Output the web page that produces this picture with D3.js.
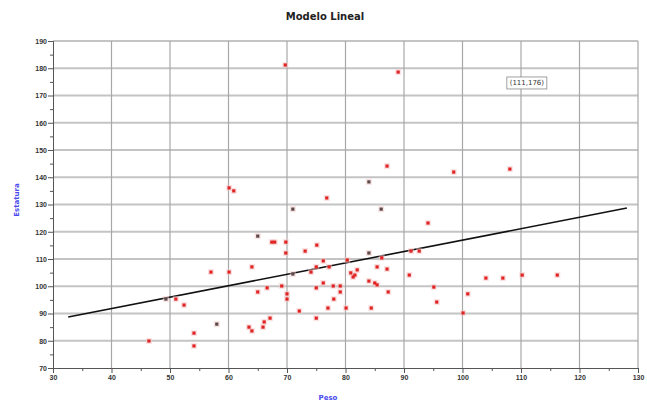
<!DOCTYPE html>
<html>
<head>
<meta charset="utf-8">
<script src="https://cdn.jsdelivr.net/npm/d3@7"></script>
<style>
  body { margin: 0; background: #fff; }
  svg { display: block; font-family: "DejaVu Sans", Arial, sans-serif; }
</style>
</head>
<body>
<svg id="chart" width="647" height="403"></svg>
<script>
// ---- data ----
const pesoValues = [46.4, 49.3, 51.0, 52.4, 54.1, 54.1, 57.0, 58.0, 60.1, 60.1, 60.9, 64.0, 63.5, 64.0, 65.0, 65.0, 66.1, 65.9, 66.6, 67.1,
  67.4, 67.9, 69.1, 69.8, 69.8, 70.0, 70.0, 69.7, 71.0, 72.1, 73.1, 71.0, 75.1, 75.0, 75.0, 76.8, 76.2, 77.2, 75.0, 74.1,
  76.2, 77.0, 77.9, 78.0, 79.1, 79.1, 80.3, 80.1, 80.9, 81.3, 81.6, 82.0, 84.0, 84.0, 84.4, 85.0, 85.4, 85.4, 87.1, 87.3,
  86.1, 86.2, 84.0, 87.1, 89.0, 90.9, 91.2, 92.6, 94.1, 95.1, 95.6, 98.5, 100.1, 100.9, 104.0, 106.9, 108.1, 110.2, 116.2];
const estaturaValues = [79.9, 95.3, 95.3, 93.1, 82.8, 78.1, 105.2, 86.1, 105.2, 136.1, 135.0, 107.1, 85.0, 83.6, 118.4, 97.9, 86.9, 85.0, 99.4, 88.3,
  116.2, 116.2, 100.1, 116.2, 112.2, 97.2, 95.3, 181.2, 128.3, 90.9, 112.9, 104.5, 115.1, 99.4, 88.3, 132.4, 109.3, 107.1, 107.1, 105.2,
  101.2, 92.0, 100.1, 95.3, 100.1, 97.9, 109.6, 92.0, 104.9, 103.4, 104.1, 106.0, 112.2, 101.9, 92.0, 101.2, 100.5, 107.1, 106.3, 97.9,
  128.3, 110.4, 138.3, 144.1, 178.6, 104.1, 112.9, 112.9, 123.2, 99.7, 94.2, 141.9, 90.2, 97.2, 103.0, 103.0, 143.0, 104.1, 104.1];
// indexes of points drawn dark
const darkPoints = [1, 7, 14, 28, 31, 52, 60, 62];
// regression line end points (Peso, Estatura)
const lineX = [32.6, 128.1];
const lineY = [88.7, 128.7];
const xTicks = [30, 40, 50, 60, 70, 80, 90, 100, 110, 120, 130];
const yTicks = [70, 80, 90, 100, 110, 120, 130, 140, 150, 160, 170, 180, 190];
const titleText = "Modelo Lineal";
const xLabel = "Peso";
const yLabel = "Estatura";
const noteText = "(111,176)";
const noteX = 111, noteY = 174.6;

// ---- drawing ----
const svg = d3.select("#chart");
const L = 53, R = 638, T = 41, B = 368;
const x = d3.scaleLinear().domain([30, 130]).range([L, R]);
const y = d3.scaleLinear().domain([70, 190]).range([B, T]);

// minor ticks
const xMinor = d3.range(35, 130, 10);
const yMinor = d3.range(75, 190, 10);

// grid
const grid = svg.append("g");
grid.selectAll("line.h").data(yTicks.slice(1)).join("line")
  .attr("x1", L).attr("x2", R).attr("y1", d => y(d)).attr("y2", d => y(d))
  .attr("stroke", "#c4c4c4").attr("stroke-width", 2);
grid.selectAll("line.v").data(xTicks.slice(1)).join("line")
  .attr("y1", T).attr("y2", B).attr("x1", d => x(d)).attr("x2", d => x(d))
  .attr("stroke", "#a8a8a8").attr("stroke-width", 1.2);

// axes
const xAxis = svg.append("g").attr("transform", `translate(0,${B})`)
  .call(d3.axisBottom(x).tickValues(xTicks).tickSize(5).tickPadding(2).tickFormat(d3.format("d")));
const xAxisMinor = svg.append("g").attr("transform", `translate(0,${B})`)
  .call(d3.axisBottom(x).tickValues(xMinor).tickSize(3).tickFormat(""));
const yAxis = svg.append("g").attr("transform", `translate(${L},0)`)
  .call(d3.axisLeft(y).tickValues(yTicks).tickSize(5).tickPadding(1).tickFormat(d3.format("d")));
const yAxisMinor = svg.append("g").attr("transform", `translate(${L},0)`)
  .call(d3.axisLeft(y).tickValues(yMinor).tickSize(3).tickFormat(""));
[xAxis, xAxisMinor, yAxis, yAxisMinor].forEach(a => {
  a.selectAll("path").attr("stroke", "#555");
  a.selectAll("line").attr("stroke", "#555");
  a.selectAll("text").attr("fill", "#333").attr("font-size", 7).attr("font-weight", "bold");
});
xAxisMinor.select("path").remove();
yAxisMinor.select("path").remove();

// regression line
svg.append("line")
  .attr("x1", x(lineX[0])).attr("y1", y(lineY[0]))
  .attr("x2", x(lineX[1])).attr("y2", y(lineY[1]))
  .attr("stroke", "#111").attr("stroke-width", 1.6);

// points
const pts = pesoValues.map((p, i) => ({ p, e: estaturaValues[i], dark: darkPoints.includes(i) }));
svg.append("g").selectAll("rect.halo").data(pts).join("rect")
  .attr("x", d => x(d.p) - 3).attr("y", d => y(d.e) - 3)
  .attr("width", 6).attr("height", 6)
  .attr("fill", "#f6c8c8").attr("opacity", 0.5);
svg.append("g").selectAll("rect.pt").data(pts).join("rect")
  .attr("x", d => x(d.p) - 1.6).attr("y", d => y(d.e) - 1.6)
  .attr("width", 3.2).attr("height", 3.2)
  .attr("fill", d => d.dark ? "#5a4a4a" : "#e02424");

// note box
const nb = svg.append("g").attr("transform", `translate(${x(noteX)},${y(noteY)})`);
nb.append("rect").attr("x", -20).attr("y", -6).attr("width", 40).attr("height", 12)
  .attr("fill", "#fff").attr("stroke", "#888").attr("stroke-width", 0.8);
nb.append("text").attr("text-anchor", "middle").attr("dy", "0.35em")
  .attr("font-size", 7).attr("fill", "#333").text(noteText);

// title and labels
svg.append("text").attr("x", 325).attr("y", 20).attr("text-anchor", "middle")
  .attr("font-size", 10).attr("font-weight", "bold").attr("fill", "#222").text(titleText);
svg.append("text").attr("x", 328).attr("y", 400).attr("text-anchor", "middle")
  .attr("font-size", 7).attr("font-weight", "bold").attr("fill", "#4a4af0").text(xLabel);
svg.append("text").attr("transform", "translate(19,200) rotate(-90)").attr("text-anchor", "middle")
  .attr("font-size", 7).attr("font-weight", "bold").attr("fill", "#4a4af0").text(yLabel);
</script>
</body>
</html>
